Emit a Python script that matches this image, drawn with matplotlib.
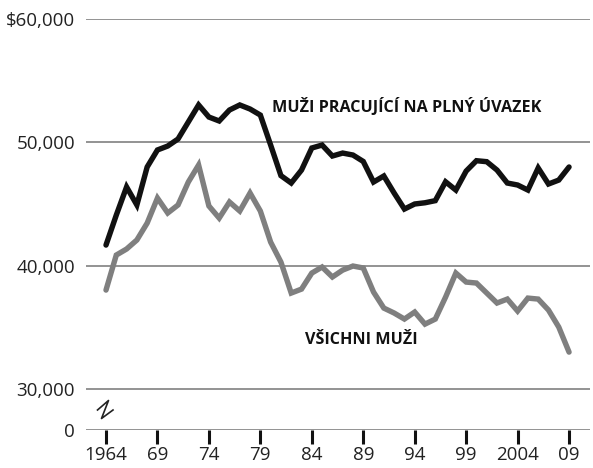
import matplotlib
matplotlib.use("Agg")
import matplotlib.pyplot as plt
from matplotlib.lines import Line2D

years = list(range(1964, 2010))
full_time_men = [41670, 44100, 46380, 44920, 48000, 49380, 49700, 50270, 51650, 53030,
                 52050, 51730, 52620, 53030, 52700, 52210, 49780, 47300, 46700, 47750,
                 49540, 49780, 48890, 49130, 48970, 48450, 46780, 47270, 45890, 44590,
                 45000, 45100, 45270, 46800, 46130, 47670, 48510, 48430, 47750, 46700,
                 46540, 46130, 47920, 46620, 46940, 48000]
all_men = [38020, 40860, 41350, 42080, 43450, 45480, 44270, 44920, 46780, 48160,
           44840, 43860, 45160, 44430, 45890, 44430, 41910, 40290, 37780, 38100,
           39400, 39890, 39080, 39640, 39970, 39810, 37860, 36560, 36160, 35670,
           36240, 35260, 35670, 37450, 39400, 38670, 38590, 37780, 36970, 37290,
           36320, 37370, 37290, 36400, 35020, 32990]
xtick_years = [1964, 1969, 1974, 1979, 1984, 1989, 1994, 1999, 2004, 2009]
xtick_labels = ["1964", "69", "74", "79", "84", "89", "94", "99", "2004", "09"]
ytick_values = [30000, 40000, 50000, 60000]
ytick_labels = ["30,000", "40,000", "50,000", "$60,000"]
label_full = "MUŽI PRACUJÍCÍ NA PLNÝ ÚVAZEK"
label_all = "VŠICHNI MUŽI"

W, H = 593, 468
fig = plt.figure(figsize=(W / 100, H / 100), dpi=100)
ax = fig.add_axes([86 / W, 1 - 430 / H, (590 - 86) / W, (430 - 19) / H])

# broken axis: the "0" baseline sits 41 px below 30,000 (123.3 px per 10,000)
zero_pos = 30000 - 41 / 123.3 * 10000
ax.set_ylim(zero_pos, 60000)
ax.set_xlim(1964 - 20 / 10.29, 1964 + 484 / 10.29)

grid_color = "#8a8a8a"
for v in ytick_values:
    ax.axhline(v, color=grid_color, lw=1.3, zorder=1)
ax.axhline(zero_pos, color=grid_color, lw=1.3, zorder=1)

ax.plot(years, all_men, color="#7f7f7f", lw=3.9, solid_joinstyle="miter",
        solid_capstyle="round", zorder=3, clip_on=False)
ax.plot(years, full_time_men, color="#111111", lw=3.9, solid_joinstyle="miter",
        solid_capstyle="round", zorder=4, clip_on=False)

for s in ax.spines.values():
    s.set_visible(False)

font = "Open Sans"
text_color = "#222222"
ax.set_yticks(ytick_values + [zero_pos])
ax.set_yticklabels(ytick_labels + ["0"], fontfamily=font, fontsize=13.5, color=text_color)
ax.tick_params(axis="y", length=0, pad=8)
ax.set_xticks(xtick_years)
ax.set_xticklabels(xtick_labels, fontfamily=font, fontsize=13.5, color=text_color)
ax.tick_params(axis="x", length=10, width=2.2, color="#111111", pad=1.5)

ax.text(1993.25, 52860, label_full, fontfamily=font, fontweight="bold", fontsize=11.6,
        color="#111111", ha="center", va="center")
ax.text(1988.85, 33950, label_all, fontfamily=font, fontweight="bold", fontsize=11.6,
        color="#111111", ha="center", va="center")

# axis break mark
pts = [(97.5, 410), (108.5, 400.5), (101.5, 418.5), (113, 410)]
fig.add_artist(Line2D([p[0] / W for p in pts], [1 - p[1] / H for p in pts],
                      color="#222222", lw=1.2, transform=fig.transFigure))

fig.savefig("out.png", dpi=100, facecolor="white")
